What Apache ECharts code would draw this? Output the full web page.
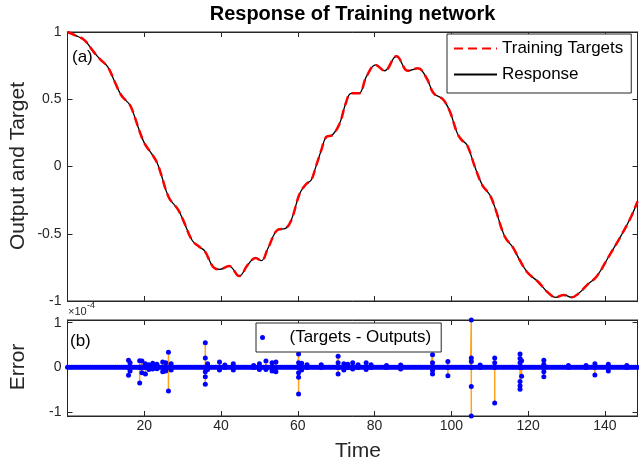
<!DOCTYPE html>
<html><head><meta charset="utf-8">
<script src="https://cdn.jsdelivr.net/npm/echarts@6/dist/echarts.min.js"></script>
<style>html,body{margin:0;padding:0;background:#fff}#c{width:639px;height:466px}</style>
</head><body><div id="c"></div>
<script>
// ---- data ----
const timeValues = [0, 2, 4.4, 6.6, 8.4, 10.5, 12.3, 14, 16.2, 17,
  18.8, 20.1, 21.8, 23.3, 24.3, 26.4, 28.8, 30.3, 32.5, 34.5,
  35.8, 37.9, 39.6, 42.1, 44.7, 47, 49, 50.5, 52.2, 54.8,
  56.8, 58.3, 60.5, 62.2, 63.5, 64.6, 66.1, 67.4, 69, 70.9,
  72.5, 73.9, 75.9, 77.9, 80.3, 82.6, 85.7, 88.7, 91.3, 93.5,
  95.4, 97.8, 99.6, 101.5, 102.6, 104.1, 106.1, 108.1, 110, 111.3,
  113.9, 116, 117.8, 119.9, 122.6, 125.2, 127.2, 129.3, 131.3, 133.2,
  135.6, 137.8, 141.2, 144.3, 146.9, 148.5];
const targetValues = [1.0, 0.975, 0.94, 0.86, 0.80, 0.74, 0.63, 0.53, 0.46, 0.41,
  0.26, 0.17, 0.10, 0.03, -0.05, -0.23, -0.32, -0.41, -0.55, -0.60,
  -0.63, -0.745, -0.765, -0.74, -0.814, -0.73, -0.68, -0.70, -0.61, -0.47,
  -0.46, -0.40, -0.20, -0.13, -0.10, -0.01, 0.12, 0.22, 0.234, 0.32,
  0.47, 0.544, 0.544, 0.67, 0.755, 0.712, 0.82, 0.712, 0.73, 0.66,
  0.544, 0.50, 0.41, 0.25, 0.20, 0.16, 0.0, -0.14, -0.21, -0.30,
  -0.52, -0.60, -0.695, -0.79, -0.857, -0.938, -0.973, -0.955, -0.973, -0.943,
  -0.874, -0.82, -0.66, -0.51, -0.37, -0.26];
// network response is indistinguishable from the targets in the picture
const responseValues = [1.0, 0.975, 0.94, 0.86, 0.80, 0.74, 0.63, 0.53, 0.46, 0.41,
  0.26, 0.17, 0.10, 0.03, -0.05, -0.23, -0.32, -0.41, -0.55, -0.60,
  -0.63, -0.745, -0.765, -0.74, -0.814, -0.73, -0.68, -0.70, -0.61, -0.47,
  -0.46, -0.40, -0.20, -0.13, -0.10, -0.01, 0.12, 0.22, 0.234, 0.32,
  0.47, 0.544, 0.544, 0.67, 0.755, 0.712, 0.82, 0.712, 0.73, 0.66,
  0.544, 0.50, 0.41, 0.25, 0.20, 0.16, 0.0, -0.14, -0.21, -0.30,
  -0.52, -0.60, -0.695, -0.79, -0.857, -0.938, -0.973, -0.955, -0.973, -0.943,
  -0.874, -0.82, -0.66, -0.51, -0.37, -0.26];

// error (x1e-4): baseline samples every 0.5 time units from t = 0 to 148.5
const errStep = 0.5;
const errBaseline = [
  0,0,0,0,0,0,0,0,0,0, 0,0,0,0,0,0,0,0,0,0, 0,0,0,0,0,0,0,0,0,0,
  0,0,0,0,0,0,0,0,0,0, 0,0,0,0,0,0,0,0,0,0, 0,0,0,0,0,0,0,0,0,0,
  0,0,0,0,0,0,0,0,0,0, 0,0,0,0,0,0,0,0,0,0, 0,0,0,0,0,0,0,0,0,0,
  0,0,0,0,0,0,0,0,0,0, 0,0,0,0,0,0,0,0,0,0, 0,0,0,0,0,0,0,0,0,0,
  0,0,0,0,0,0,0,0,0,0, 0,0,0,0,0,0,0,0,0,0, 0,0,0,0,0,0,0,0,0,0,
  0,0,0,0,0,0,0,0,0,0, 0,0,0,0,0,0,0,0,0,0, 0,0,0,0,0,0,0,0,0,0,
  0,0,0,0,0,0,0,0,0,0, 0,0,0,0,0,0,0,0,0,0, 0,0,0,0,0,0,0,0,0,0,
  0,0,0,0,0,0,0,0,0,0, 0,0,0,0,0,0,0,0,0,0, 0,0,0,0,0,0,0,0,0,0,
  0,0,0,0,0,0,0,0,0,0, 0,0,0,0,0,0,0,0,0,0, 0,0,0,0,0,0,0,0,0,0,
  0,0,0,0,0,0,0,0,0,0, 0,0,0,0,0,0,0,0,0,0, 0,0,0,0,0,0,0,0];
// error excursions (x1e-4): time of each burst and the values recorded there
const spikeTime = [15.9, 16.3, 18.8, 19.4, 20.3, 21.2, 22.2, 23.3, 24.8, 25.6,
  26.3, 27.0, 35.9, 36.5, 39.6, 41.0, 43.2, 48.5, 50.0, 51.7,
  53.3, 54.3, 60.2, 61.0, 62.4, 66.1, 70.5, 72.0, 73.0, 74.3,
  75.7, 77.8, 79.1, 83.1, 86.8, 95.1, 99.1, 105.2, 107.5, 111.3,
  117.9, 118.3, 124.1, 130.5, 135.1, 137.4, 140.9, 145.7];
const spikeValues = [[0.16,-0.18],[0.10,-0.08],[0.15,-0.35],[0.14,-0.12],[0.08,-0.15],[0.06,-0.05],[0.09,-0.04],[0.07,-0.03],[0.12,-0.10],[0.10,-0.08],
  [0.34,-0.53],[0.08,-0.06],[0.55,0.21,-0.10,-0.21,-0.38],[0.08,-0.05],[0.12,-0.06],[0.05],[0.08,-0.06],[0.04],[0.08,-0.05],[0.14,-0.05],
  [0.10,-0.08],[0.12,-0.10],[0.30,0.10,-0.12,-0.22,-0.60],[0.09,-0.06],[0.06],[0.06],[0.25,0.10,-0.15],[0.08,-0.06],[0.07],[0.10,-0.04],
  [0.06],[0.10,-0.05],[0.06],[0.04],[0.05,-0.04],[0.28,0.10,-0.07,-0.15],[0.13,-0.19],[1.06,0.21,0.13,-0.43,-1.09],[0.05],[0.21,0.10,-0.80],
  [0.30,0.20,0.10,-0.32,-0.41,-0.49],[0.15,-0.20],[0.16,0.07,-0.10,-0.21],[0.04],[0.04],[0.08,-0.17],[0.07,-0.08],[0.04]];

const yTicksErr = [-1, 0, 1];

// ---- build ----
const FONT = "'Liberation Sans', Arial, Helvetica, sans-serif";
const AX = '#262626';
const curveTarget = timeValues.map((t, i) => [t, targetValues[i]]);
const curveResp = timeValues.map((t, i) => [t, responseValues[i]]);
let errPoints = errBaseline.map((v, i) => [i * errStep, v]);
spikeTime.forEach((t, k) => {
  errPoints.push([t, 0]);
  spikeValues[k].forEach(v => errPoints.push([t, v]));
  errPoints.push([t, 0]);
});
errPoints.sort((a, b) => a[0] - b[0]);

const XMIN = 0, XMAX = 148.5;
function xAx(grid, pos, labels) {
  return {
    type: 'value', gridIndex: grid, position: pos, min: XMIN, max: XMAX, interval: 20,
    axisLine: { show: true, onZero: false, lineStyle: { color: AX, width: 1 } },
    axisTick: { show: true, inside: true, length: 5, lineStyle: { color: AX } },
    axisLabel: { show: labels, showMinLabel: false, showMaxLabel: false, margin: 3,
      color: AX, fontSize: 14, fontFamily: FONT },
    splitLine: { show: false }
  };
}
function yAxTop(pos, labels) {
  return {
    type: 'value', gridIndex: 0, position: pos, min: -1, max: 1, interval: 0.5,
    axisLine: { show: true, onZero: false, lineStyle: { color: AX, width: 1 } },
    axisTick: { show: true, inside: true, length: 5, lineStyle: { color: AX } },
    axisLabel: { show: labels, margin: 6, color: AX, fontSize: 14, fontFamily: FONT },
    splitLine: { show: false }
  };
}
function yAxErr(pos, labels) {
  return {
    type: 'value', gridIndex: 1, position: pos, min: -1.09, max: 1.06,
    axisLine: { show: true, onZero: false, lineStyle: { color: AX, width: 1 } },
    axisTick: { show: true, inside: true, length: 5, customValues: yTicksErr, lineStyle: { color: AX } },
    axisLabel: { show: labels, margin: 6, customValues: yTicksErr, color: AX, fontSize: 14, fontFamily: FONT },
    splitLine: { show: false }
  };
}

const chart = echarts.init(document.getElementById('c'), null, { renderer: 'canvas' });
chart.setOption({
  animation: false,
  backgroundColor: '#fff',
  grid: [
    { left: 67.5, top: 32, width: 570, height: 269, show: true, borderColor: AX, borderWidth: 1 },
    { left: 67.5, top: 320, width: 570, height: 96, show: true, borderColor: AX, borderWidth: 1 }
  ],
  xAxis: [xAx(0, 'bottom', false), xAx(1, 'bottom', true), xAx(0, 'top', false), xAx(1, 'top', false)],
  yAxis: [yAxTop('left', true), yAxErr('left', true), yAxTop('right', false), yAxErr('right', false)],
  legend: [
    {
      data: ['Training Targets', 'Response'], orient: 'vertical', left: 447, top: 34,
      padding: [6, 8, 10, 6], itemGap: 9, itemWidth: 43, itemHeight: 14, selectedMode: false,
      borderColor: AX, borderWidth: 1, backgroundColor: '#fff',
      itemStyle: { opacity: 0 },
      textStyle: { fontSize: 17, fontFamily: FONT, color: '#000' }
    },
    {
      data: [{ name: '(Targets - Outputs)', icon: 'circle' }], left: 256, top: 323,
      padding: [6, 10, 6, 4], itemWidth: 44, itemHeight: 5, selectedMode: false,
      borderColor: AX, borderWidth: 1, backgroundColor: '#fff',
      textStyle: { fontSize: 17, fontFamily: FONT, color: '#000' }
    }
  ],
  series: [
    { name: 'Response', type: 'line', xAxisIndex: 0, yAxisIndex: 0, data: curveResp, smooth: 0.4,
      symbol: 'none', lineStyle: { color: '#000000', width: 1.3 }, itemStyle: { color: '#000' }, z: 2 },
    { name: 'Training Targets', type: 'line', xAxisIndex: 0, yAxisIndex: 0, data: curveTarget, smooth: 0.4,
      symbol: 'none', lineStyle: { color: '#FF0000', width: 2.5, type: [9, 5] }, itemStyle: { color: '#FF0000' }, z: 3 },
    { name: 'errline', type: 'line', xAxisIndex: 1, yAxisIndex: 1, data: errPoints,
      symbol: 'none', lineStyle: { color: '#FFA31A', width: 1.5 }, z: 2 },
    { name: '(Targets - Outputs)', type: 'scatter', xAxisIndex: 1, yAxisIndex: 1, data: errPoints,
      symbol: 'circle', symbolSize: 5, itemStyle: { color: '#0000FF', opacity: 1 }, z: 3 }
  ],
  graphic: [
    { type: 'text', x: 352.5, y: 14, style: { text: 'Response of Training network', font: 'bold 20px ' + FONT, fill: '#000', align: 'center', verticalAlign: 'middle', textAlign: 'center', textVerticalAlign: 'middle' } },
    { type: 'text', x: 18, y: 166, rotation: Math.PI / 2, style: { text: 'Output and Target', font: '21px ' + FONT, fill: AX, align: 'center', verticalAlign: 'middle', textAlign: 'center', textVerticalAlign: 'middle' } },
    { type: 'text', x: 18, y: 367, rotation: Math.PI / 2, style: { text: 'Error', font: '21px ' + FONT, fill: AX, align: 'center', verticalAlign: 'middle', textAlign: 'center', textVerticalAlign: 'middle' } },
    { type: 'text', x: 358, y: 451, style: { text: 'Time', font: '21px ' + FONT, fill: AX, align: 'center', verticalAlign: 'middle', textAlign: 'center', textVerticalAlign: 'middle' } },
    { type: 'text', x: 72, y: 57, style: { text: '(a)', font: '17px ' + FONT, fill: '#000', align: 'left', verticalAlign: 'middle', textAlign: 'left', textVerticalAlign: 'middle' } },
    { type: 'text', x: 70, y: 341, style: { text: '(b)', font: '17px ' + FONT, fill: '#000', align: 'left', verticalAlign: 'middle', textAlign: 'left', textVerticalAlign: 'middle' } },
    { type: 'text', x: 68, y: 312, style: { text: '\u00d710', font: '11px ' + FONT, fill: AX, align: 'left', verticalAlign: 'middle', textAlign: 'left', textVerticalAlign: 'middle' } },
    { type: 'text', x: 87, y: 306, style: { text: '-4', font: '9px ' + FONT, fill: AX, align: 'left', verticalAlign: 'middle', textAlign: 'left', textVerticalAlign: 'middle' } }
  ]
});
</script>
</body></html>
